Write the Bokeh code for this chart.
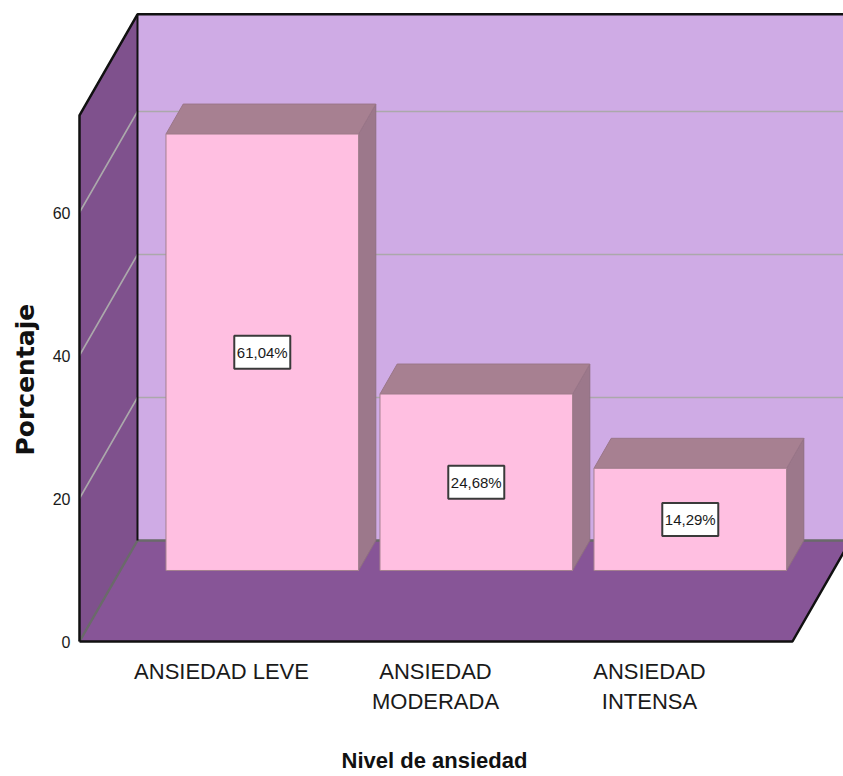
from bokeh.plotting import figure
from bokeh.embed import file_html
from bokeh.resources import INLINE
from bokeh.models import Range1d, FixedTicker, Title, Label, ColumnDataSource
from bokeh.core.properties import value

categories = ["ANSIEDAD LEVE", "ANSIEDAD\nMODERADA", "ANSIEDAD\nINTENSA"]
percentages = [61.04, 24.68, 14.29]
value_labels = ["61,04%", "24,68%", "14,29%"]
y_ticks = [0, 20, 40, 60]
grid_values = [20, 40, 60]
x_title = "Nivel de ansiedad"
y_title = "Porcentaje"

WALL_TOP = 73.6          # axis value reached by the back wall
X_LO, X_HI = -0.6636, 2.668   # floor extent along the category axis
BAR_W = 0.9
BAR_FRONT = 0.703        # depth of a bar's front face (0 = front of floor, 1 = back wall)

# chart geometry: pixels per unit and oblique projection of depth
PX_X, PX_Y = 214.0, 7.15
DX, DY = 58.0 / PX_X, 101.0 / PX_Y
ORIGIN_X, ORIGIN_Y = 221.0, 641.0


def X(c, d=0.0):
    return c + d * DX


def Y(v, d=0.0):
    return v + d * DY


def px_x(px):
    return (px - ORIGIN_X) / PX_X


def px_y(px):
    return (ORIGIN_Y - px) / PX_Y


W, H = 843, 776
FL, FT = 77, 12   # frame edges in pixels
p = figure(width=W, height=H, output_backend="svg", toolbar_location=None,
           x_range=Range1d(px_x(FL), px_x(W)), y_range=Range1d(px_y(H), px_y(FT)),
           min_border_left=FL, min_border_right=0, min_border_top=FT,
           min_border_bottom=0, background_fill_color=None,
           border_fill_color="white", outline_line_color=None)
p.grid.visible = False

SANS = "Liberation Sans"
for ax in (p.xaxis[0], p.yaxis[0]):
    ax.axis_line_color = None
    ax.major_tick_line_color = None
    ax.minor_tick_line_color = None
    ax.major_label_text_font = SANS
    ax.major_label_text_color = "#1a1a1a"
p.yaxis[0].ticker = FixedTicker(ticks=y_ticks)
p.yaxis[0].major_label_text_font_size = "16px"
p.yaxis[0].major_label_standoff = 1
p.xaxis[0].ticker = FixedTicker(ticks=[0, 1, 2])
p.xaxis[0].major_label_overrides = {i: c for i, c in enumerate(categories)}
p.xaxis[0].major_label_text_font_size = "22px"
p.xaxis[0].major_label_standoff = 8
p.xaxis[0].fixed_location = px_y(644)

# walls and floor
p.patch([X(X_LO, 1), X(X_HI, 1), X(X_HI, 1), X(X_LO, 1)],
        [Y(0, 1), Y(0, 1), Y(WALL_TOP, 1), Y(WALL_TOP, 1)], color="#CFABE5", line_color=None)
p.patch([X(X_LO), X(X_LO, 1), X(X_LO, 1), X(X_LO)],
        [Y(0), Y(0, 1), Y(WALL_TOP, 1), Y(WALL_TOP)], color="#7F518D", line_color=None)
p.patch([X(X_LO), X(X_HI), X(X_HI, 1), X(X_LO, 1)],
        [Y(0), Y(0), Y(0, 1), Y(0, 1)], color="#875597", line_color=None)

# gridlines
for g in grid_values:
    p.line([X(X_LO), X(X_LO, 1), X(X_HI, 1)], [Y(g), Y(g, 1), Y(g, 1)],
           line_color="#ABA8AB", line_width=1.6)
p.line([X(X_LO), X(X_LO, 1), X(X_HI, 1)], [Y(0), Y(0, 1), Y(0, 1)],
       line_color="#6A6A6A", line_width=2.5)

# outline
p.line([X(X_LO), X(X_LO), X(X_LO, 1), X(X_HI, 1)],
       [Y(0), Y(WALL_TOP), Y(WALL_TOP, 1), Y(WALL_TOP, 1)], line_color="#111111", line_width=2.5)
p.line([X(X_LO, 1), X(X_LO, 1)], [Y(0, 1), Y(WALL_TOP, 1)], line_color="#111111", line_width=2)
p.line([X(X_LO), X(X_HI), X(X_HI, 1)], [Y(0), Y(0), Y(0, 1)], line_color="#111111", line_width=2.5)

# bars
EDGE = "#A4808F"
for i, v in enumerate(percentages):
    l, r = i - BAR_W / 2, i + BAR_W / 2
    d0, d1 = BAR_FRONT, 1.0
    p.patch([X(r, d0), X(r, d1), X(r, d1), X(r, d0)],
            [Y(0, d0), Y(0, d1), Y(v, d1), Y(v, d0)],
            color="#9C788B", line_color="#8F6F80", line_width=1)
    p.patch([X(l, d0), X(r, d0), X(r, d1), X(l, d1)],
            [Y(v, d0), Y(v, d0), Y(v, d1), Y(v, d1)],
            color="#A78091", line_color="#9A7688", line_width=1)
    p.patch([X(l, d0), X(r, d0), X(r, d0), X(l, d0)],
            [Y(0, d0), Y(0, d0), Y(v, d0), Y(v, d0)],
            color="#FFBFE1", line_color=EDGE, line_width=1)

# value labels
src = ColumnDataSource(dict(
    x=[X(i, BAR_FRONT) for i in range(len(percentages))],
    y=[Y(v / 2, BAR_FRONT) for v in percentages],
    t=value_labels))
p.rect("x", "y", source=src, width=56, height=33, width_units="screen", height_units="screen",
       fill_color="white", line_color="#3A3A3A", line_width=2)
p.text("x", "y", text="t", source=src, text_align="center", text_baseline="middle",
       text_font=value(SANS), text_font_size="15px", text_color="#1a1a1a")

# axis titles
p.add_layout(Label(x=px_x(434), y=px_y(760), text=x_title,
                   text_align="center", text_baseline="middle", text_font=SANS,
                   text_font_style="bold", text_font_size="22px", text_color="#111111"))
p.add_layout(Title(text=y_title, align="left", offset=H - 455, standoff=16, vertical_align="top",
                   text_font="DejaVu Sans", text_font_style="bold", text_font_size="25px",
                   text_color="#111111"), "left")

open("out.html", "w").write(file_html(p, INLINE))
